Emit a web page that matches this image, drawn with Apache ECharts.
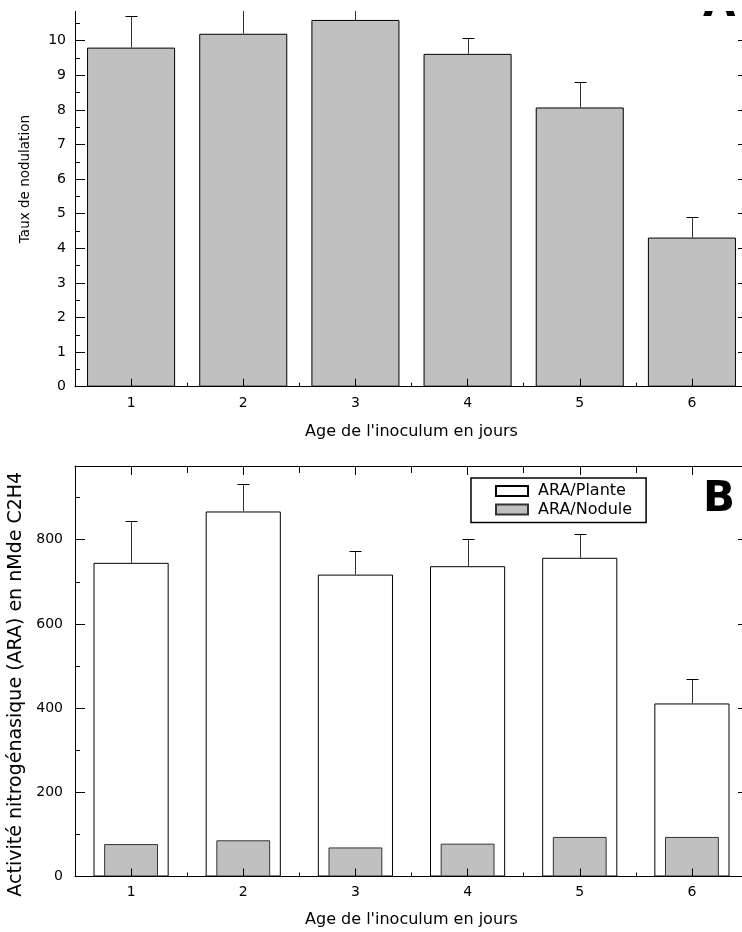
<!DOCTYPE html>
<html>
<head>
<meta charset="utf-8">
<script src="https://cdn.jsdelivr.net/npm/echarts@6/dist/echarts.min.js"></script>
<style>
html,body{margin:0;padding:0;background:#fff;}
#c{width:742px;height:932px;}
</style>
</head>
<body>
<div id="c"></div>
<script>
// ---- data ----
var categories = ['1', '2', '3', '4', '5', '6'];
var nodulation = [9.8, 10.2, 10.6, 9.62, 8.07, 4.31];
var nodulationErr = [0.91, 0.9, 0.6, 0.47, 0.73, 0.59];
var araPlante = [745, 867, 717, 737, 757, 411];
var araPlanteErr = [99, 65, 55, 64, 57, 57];
var araNodule = [77, 86, 69, 78, 94, 94];
var seriesNames = ['ARA/Plante', 'ARA/Nodule'];
var xName = "Age de l'inoculum en jours";
var yNameA = 'Taux de nodulation';
var yNameB = 'Activité nitrogénasique (ARA) en nMde C2H4';

var FONT = '"DejaVu Sans", "Liberation Sans", Arial, sans-serif';

function errRender(params, api) {
  var x = api.value(0), v = api.value(1), e = api.value(2);
  var p0 = api.coord([x, v]);
  var p1 = api.coord([x, v + e]);
  var hw = 6;
  var cx = Math.round(p0[0]) + 0.5;
  var yt = Math.round(p1[1]) + 0.5;
  return {
    type: 'group',
    children: [
      { type: 'line', shape: { x1: cx, y1: p0[1], x2: cx, y2: yt }, style: { stroke: '#333', lineWidth: 1 } },
      { type: 'line', shape: { x1: cx - hw, y1: yt, x2: cx + hw, y2: yt }, style: { stroke: '#000', lineWidth: 1 } }
    ]
  };
}

function catAxis(grid, opts) {
  var base = {
    type: 'category', gridIndex: grid, data: categories, boundaryGap: true, z: 5, offset: 0,
    axisLine: { show: false, onZero: false, lineStyle: { color: '#000', width: 1 } },
    axisTick: { show: true, inside: true, length: 4, lineStyle: { color: '#000' } },
    axisLabel: { show: false },
    splitLine: { show: false }
  };
  return Object.assign(base, opts);
}
function valAxis(grid, opts) {
  var base = {
    type: 'value', gridIndex: grid, z: 5, offset: 0,
    axisLine: { show: true, onZero: false, lineStyle: { color: '#000', width: 1 } },
    axisTick: { show: true, inside: true, length: 10, lineStyle: { color: '#000' } },
    axisLabel: { show: false },
    splitLine: { show: false }
  };
  return Object.assign(base, opts);
}

var chart = echarts.init(document.getElementById('c'), null, { renderer: 'canvas' });

var option = {
  animation: false,
  backgroundColor: '#fff',
  textStyle: { fontFamily: FONT, color: '#000' },
  grid: [
    { left: 75, right: -6, top: -28.5, bottom: 545.3, containLabel: false, outerBoundsMode: 'none' },
    { left: 75, right: -6, top: 466, bottom: 55.5, containLabel: false, outerBoundsMode: 'none' }
  ],
  legend: {
    show: true,
    orient: 'vertical',
    left: 471, top: 478,
    data: seriesNames,
    icon: 'rect',
    itemWidth: 32, itemHeight: 10, itemGap: 2.5,
    padding: [5, 14, 5, 24],
    borderColor: '#000', borderWidth: 1.5,
    textStyle: { fontFamily: FONT, fontSize: 16, color: '#000', lineHeight: 16, padding: [0, 0, 0, 5] }
  },
  xAxis: [
    catAxis(0, {
      position: 'bottom',
      axisLine: { show: true, onZero: false, lineStyle: { color: '#000', width: 1 } },
      axisTick: { show: true, inside: true, length: 8, alignWithLabel: true, lineStyle: { color: '#000' } },
      axisLabel: { show: true, fontFamily: FONT, fontSize: 14, color: '#000', margin: 10 },
      name: xName, nameLocation: 'middle', nameGap: 37,
      nameTextStyle: { fontFamily: FONT, fontSize: 16, color: '#000' }
    }),
    catAxis(0, { position: 'bottom' }),
    catAxis(1, {
      position: 'bottom',
      axisLine: { show: true, onZero: false, lineStyle: { color: '#000', width: 1 } },
      axisTick: { show: true, inside: true, length: 8, alignWithLabel: true, lineStyle: { color: '#000' } },
      axisLabel: { show: true, fontFamily: FONT, fontSize: 14, color: '#000', margin: 9 },
      name: xName, nameLocation: 'middle', nameGap: 35,
      nameTextStyle: { fontFamily: FONT, fontSize: 16, color: '#000' }
    }),
    catAxis(1, { position: 'bottom' }),
    catAxis(1, {
      position: 'top',
      axisLine: { show: true, onZero: false, lineStyle: { color: '#000', width: 1 } },
      axisTick: { show: true, inside: true, length: 9, alignWithLabel: true, lineStyle: { color: '#000' } }
    }),
    catAxis(1, {
      position: 'top',
      axisTick: { show: true, inside: true, length: 7, lineStyle: { color: '#000' } }
    })
  ],
  yAxis: [
    valAxis(0, {
      position: 'left', min: 0, max: 12, interval: 1,
      minorTick: { show: true, splitNumber: 2, length: 5, lineStyle: { color: '#000' } },
      axisLabel: { show: true, fontFamily: FONT, fontSize: 14, color: '#000', margin: 9 },
      name: yNameA, nameLocation: 'middle', nameRotate: 90, nameGap: 43,
      nameTextStyle: { fontFamily: FONT, fontSize: 13.5, color: '#000' }
    }),
    valAxis(0, {
      position: 'right', min: 0, max: 12, interval: 1,
      minorTick: { show: true, splitNumber: 2, length: 5, lineStyle: { color: '#000' } }
    }),
    valAxis(1, {
      position: 'left', min: 0, max: 975, interval: 200,
      axisLabel: {
        show: true, fontFamily: FONT, fontSize: 14, color: '#000', margin: 12,
        formatter: function (v) { return v % 200 === 0 ? String(v) : ''; }
      },
      name: yNameB, nameLocation: 'middle', nameRotate: 90, nameGap: 47,
      nameTextStyle: { fontFamily: FONT, fontSize: 19, color: '#000', padding: [0, 26, 0, 0] }
    }),
    valAxis(1, {
      position: 'left', min: 0, max: 975, interval: 100,
      axisLine: { show: false, onZero: false },
      axisTick: { show: true, inside: true, length: 5, lineStyle: { color: '#000' } }
    }),
    valAxis(1, {
      position: 'right', min: 0, max: 975, interval: 200
    }),
    valAxis(1, {
      position: 'right', min: 0, max: 975, interval: 100,
      axisLine: { show: false, onZero: false },
      axisTick: { show: true, inside: true, length: 5, lineStyle: { color: '#000' } }
    })
  ],
  series: [
    {
      type: 'bar', name: 'Taux de nodulation', xAxisIndex: 0, yAxisIndex: 0,
      data: nodulation, barWidth: '78.5%',
      itemStyle: { color: '#c0c0c0', borderColor: '#000', borderWidth: 1 }
    },
    {
      type: 'custom', xAxisIndex: 0, yAxisIndex: 0, z: 4,
      data: nodulation.map(function (v, i) { return [i, v, nodulationErr[i]]; }),
      encode: { x: 0, y: 1 },
      renderItem: errRender
    },
    {
      type: 'bar', name: seriesNames[0], xAxisIndex: 2, yAxisIndex: 2,
      data: araPlante, barWidth: '67%',
      itemStyle: { color: '#ffffff', borderColor: '#000', borderWidth: 1 }
    },
    {
      type: 'bar', name: seriesNames[1], xAxisIndex: 3, yAxisIndex: 2,
      data: araNodule, barWidth: '48%',
      itemStyle: { color: '#c0c0c0', borderColor: '#333', borderWidth: 1 }
    },
    {
      type: 'custom', xAxisIndex: 2, yAxisIndex: 2, z: 4,
      data: araPlante.map(function (v, i) { return [i, v, araPlanteErr[i]]; }),
      encode: { x: 0, y: 1 },
      renderItem: errRender
    }
  ],
  graphic: [
    { type: 'text', x: 703, y: 500, z: 50,
      style: { text: 'B', font: 'bold 42px "DejaVu Sans"', fill: '#000', align: 'left', verticalAlign: 'middle' } },
    { type: 'text', x: 703, y: 5, z: 99,
      style: { text: 'A', font: 'bold 42px "DejaVu Sans"', fill: '#000', align: 'left', verticalAlign: 'middle' } },
    { type: 'rect', z: 100, shape: { x: 0, y: 0, width: 742, height: 11 }, style: { fill: '#fff' } }
  ]
};
chart.setOption(option);
</script>
</body>
</html>
